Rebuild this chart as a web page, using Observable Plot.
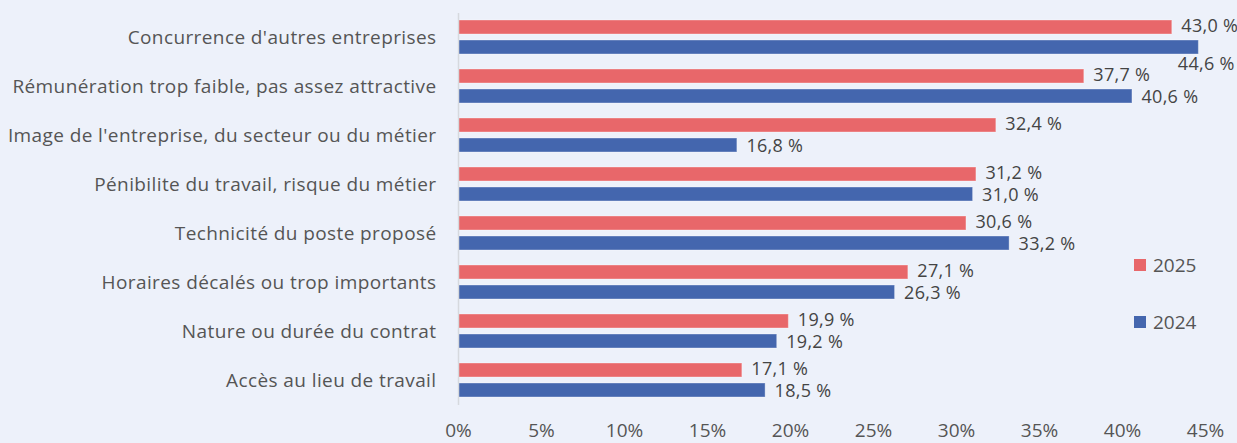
<!DOCTYPE html>
<html>
<head>
<meta charset="utf-8">
<script src="https://cdn.jsdelivr.net/npm/d3@7"></script>
<script src="https://cdn.jsdelivr.net/npm/@observablehq/plot@0.6"></script>
<style>
  html, body { margin: 0; padding: 0; background: #edf1fa; overflow: hidden; }
  #wrap { position: relative; width: 1237px; height: 443px; }
  .legend { position: absolute; font-family: "Open Sans", sans-serif; font-size: 19px; line-height: 24px; color: #555; display: flex; align-items: center; }
  .legend span.sw { display: inline-block; width: 12px; height: 12px; margin-right: 7px; }
  g.cats text { letter-spacing: 0.4px; }
  g.vals text { letter-spacing: 0.3px; }
</style>
</head>
<body>
<div id="wrap"></div>
<script>
const categories = [
  "Concurrence d'autres entreprises",
  "Rémunération trop faible, pas assez attractive",
  "Image de l'entreprise, du secteur ou du métier",
  "Pénibilite du travail, risque du métier",
  "Technicité du poste proposé",
  "Horaires décalés ou trop importants",
  "Nature ou durée du contrat",
  "Accès au lieu de travail"
];
const years = ["2025", "2024"];
const values2025 = [43.0, 37.7, 32.4, 31.2, 30.6, 27.1, 19.9, 17.1];
const values2024 = [44.6, 40.6, 16.8, 31.0, 33.2, 26.3, 19.2, 18.5];
const xTicks = [0, 5, 10, 15, 20, 25, 30, 35, 40, 45];
const colors = {"2025": "#e8676a", "2024": "#4466ae"};

const data = [];
categories.forEach((c, i) => {
  data.push({cat: c, year: "2025", value: values2025[i]});
  data.push({cat: c, year: "2024", value: values2024[i]});
});
const fmt = v => v.toFixed(1).replace(".", ",") + " %";
const FONT = "'Open Sans', sans-serif";

const red = data.filter(d => d.year === "2025");
const blueNormal = data.filter(d => d.year === "2024" && d.value < 42);
const blueTop = data.filter(d => d.year === "2024" && d.value >= 42);

const chart = Plot.plot({
  width: 1237,
  height: 443,
  marginLeft: 458,
  marginRight: 32,
  marginTop: 10,
  marginBottom: 35,
  style: {background: "#edf1fa", fontFamily: FONT, fontSize: "19px", color: "#555", overflow: "visible"},
  x: {domain: [0, 45], ticks: xTicks, tickFormat: d => d + "%", label: null, tickSize: 0, tickPadding: 18},
  fy: {domain: categories, padding: 0, label: null, tickSize: 0, tickPadding: 22},
  y: {domain: years, axis: null, paddingInner: 0.29, paddingOuter: 0.33},
  color: {domain: years, range: [colors["2025"], colors["2024"]]},
  marks: [
    Plot.axisFy({anchor: "left", tickSize: 0, tickPadding: 22, fontSize: 19, fill: "#555", label: null, className: "cats"}),
    Plot.axisX({anchor: "bottom", ticks: xTicks, tickFormat: d => d + "%", tickSize: 0, tickPadding: 18, fontSize: 19, fill: "#555", label: null}),
    Plot.barX(data, {fy: "cat", y: "year", x: "value", fill: "year", stroke: "#ffffff", strokeOpacity: 0.35, strokeWidth: 1}),
    Plot.ruleX([0], {stroke: "#d6d9de", strokeWidth: 1.5}),
    Plot.text(red, {fy: "cat", y: "year", x: "value", text: d => fmt(d.value), dx: d => 0, dy: -1, textAnchor: "start", fill: "#444", fontSize: 18, className: "vals",
      dx: 9}),
    Plot.text(blueNormal, {fy: "cat", y: "year", x: "value", text: d => fmt(d.value), dx: 9, dy: 1, textAnchor: "start", fill: "#444", fontSize: 18, className: "vals"}),
    Plot.text(blueTop, {fy: "cat", y: "year", x: "value", text: d => fmt(d.value), dx: -21, dy: 17, textAnchor: "start", fill: "#444", fontSize: 18, className: "vals"})
  ]
});
document.getElementById("wrap").appendChild(chart);

const legendPos = [{year: "2025", top: 253}, {year: "2024", top: 310}];
legendPos.forEach(l => {
  const el = document.createElement("div");
  el.className = "legend";
  el.style.left = "1134px";
  el.style.top = l.top + "px";
  el.innerHTML = `<span class="sw" style="background:${colors[l.year]}"></span>${l.year}`;
  document.getElementById("wrap").appendChild(el);
});
</script>
</body>
</html>
